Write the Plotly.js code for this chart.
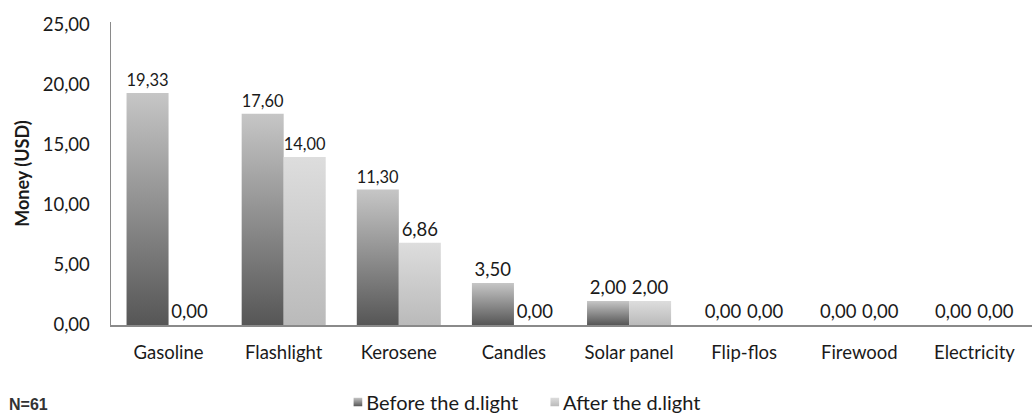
<!DOCTYPE html>
<html>
<head>
<meta charset="utf-8">
<script src="https://cdn.plot.ly/plotly-3.0.1.min.js"></script>
<style>
  html, body { margin: 0; padding: 0; background: #fff; }
  #chart { width: 1032px; height: 419px; }
</style>
</head>
<body>
<div id="chart"></div>
<script>
// Monthly spending on lighting sources, before and after the d.light lamp
const categories = ['Gasoline', 'Flashlight', 'Kerosene', 'Candles', 'Solar panel', 'Flip-flos', 'Firewood', 'Electricity'];
const beforeValues = [19.33, 17.60, 11.30, 3.50, 2.00, 0.00, 0.00, 0.00];
const afterValues = [0.00, 14.00, 6.86, 0.00, 2.00, 0.00, 0.00, 0.00];
const seriesNames = ['Before the d.light', 'After the d.light'];
const yTickValues = [0, 5, 10, 15, 20, 25];
const yTitle = 'Money (USD)';
const sampleNote = 'N=61';

const fmt = v => v.toFixed(2).replace('.', ',');
const FONT = 'Lato, "Open Sans", sans-serif';
const FS = 18.5;

function barTrace(name, values) {
  return {
    type: 'bar',
    name: name,
    x: categories,
    y: values,
    text: values.map(fmt),
    textposition: 'outside',
    cliponaxis: false,
    textfont: { family: FONT, size: FS, color: '#1a1a1a' },
    marker: { color: '#888', line: { width: 0 } },
    hoverinfo: 'none'
  };
}

const data = [barTrace(seriesNames[0], beforeValues), barTrace(seriesNames[1], afterValues)];

const layout = {
  width: 1032,
  height: 419,
  margin: { l: 111, r: 0, t: 22, b: 94, autoexpand: false },
  paper_bgcolor: '#fff',
  plot_bgcolor: '#fff',
  separators: ',.',
  barmode: 'group',
  bargap: 0.27,
  bargroupgap: 0,
  showlegend: true,
  font: { family: FONT, size: FS, color: '#1a1a1a' },
  xaxis: {
    type: 'category',
    showline: true,
    linecolor: '#8a8a8a',
    linewidth: 1.5,
    showgrid: false,
    zeroline: false,
    ticks: '',
    ticklabelstandoff: 10,
    tickfont: { family: FONT, size: FS, color: '#1a1a1a' }
  },
  yaxis: {
    range: [0, 25.25],
    tickvals: yTickValues,
    tickformat: '.2f',
    showline: true,
    linecolor: '#8a8a8a',
    linewidth: 1.5,
    showgrid: false,
    zeroline: false,
    ticks: '',
    ticklabelstandoff: 16,
    tickfont: { family: FONT, size: FS, color: '#1a1a1a' },
    title: { text: yTitle, font: { family: FONT, size: 18, color: '#1a1a1a', weight: 'bold' }, standoff: 8 }
  },
  legend: {
    orientation: 'h',
    x: 0.44,
    xanchor: 'center',
    y: -0.254,
    yanchor: 'middle',
    font: { family: FONT, size: 20, color: '#1a1a1a' },
    itemwidth: 30,
    traceorder: 'normal',
    bgcolor: 'rgba(0,0,0,0)'
  },
  annotations: [{
    text: '<b>' + sampleNote + '</b>',
    xref: 'paper', yref: 'paper',
    x: -111 / 921, xanchor: 'left', xshift: 7,
    y: -0.264, yanchor: 'middle',
    showarrow: false,
    font: { family: 'Liberation Sans, Arial, sans-serif', size: 16, color: '#333' }
  }]
};

// Vertical shading for each series, applied to bars and legend swatches
const gradients = [
  { id: 'gradBefore', top: '#c6c6c6', bottom: '#565656' },
  { id: 'gradAfter', top: '#dddddd', bottom: '#bababa' }
];

function applyGradients(gd) {
  const svg = gd.querySelector('svg.main-svg');
  const ns = 'http://www.w3.org/2000/svg';
  let defs = svg.querySelector('defs');
  if (!defs) { defs = document.createElementNS(ns, 'defs'); svg.insertBefore(defs, svg.firstChild); }
  gradients.forEach(g => {
    const lg = document.createElementNS(ns, 'linearGradient');
    lg.setAttribute('id', g.id);
    lg.setAttribute('x1', '0'); lg.setAttribute('y1', '0');
    lg.setAttribute('x2', '0'); lg.setAttribute('y2', '1');
    [[0, g.top], [1, g.bottom]].forEach(([o, c]) => {
      const s = document.createElementNS(ns, 'stop');
      s.setAttribute('offset', o);
      s.setAttribute('stop-color', c);
      lg.appendChild(s);
    });
    defs.appendChild(lg);
  });
  const traces = gd.querySelectorAll('.barlayer .trace.bars');
  traces.forEach((t, i) => {
    t.querySelectorAll('.point path').forEach(p => { p.style.fill = 'url(#' + gradients[i].id + ')'; });
  });
  // smaller legend swatches sitting right next to their labels
  const legendItems = gd.querySelectorAll('.legend .traces');
  legendItems.forEach((t, i) => {
    const label = t.querySelector('text.legendtext');
    t.querySelectorAll('.legendpoints path').forEach(p => {
      p.style.fill = 'url(#' + gradients[i].id + ')';
      const b = p.getBBox();
      const cx = b.x + b.width / 2, cy = b.y + b.height / 2;
      const s = 0.72;
      const place = dx => p.setAttribute('transform',
        'translate(' + (cx + dx) + ',' + cy + ') scale(' + s + ') translate(' + (-cx) + ',' + (-cy) + ')');
      place(0);
      const pr = p.getBoundingClientRect();
      const tr = label.getBoundingClientRect();
      place((tr.left - 4) - pr.right);
    });
  });
}

Plotly.newPlot('chart', data, layout, { staticPlot: true, displayModeBar: false })
  .then(applyGradients);
</script>
</body>
</html>
